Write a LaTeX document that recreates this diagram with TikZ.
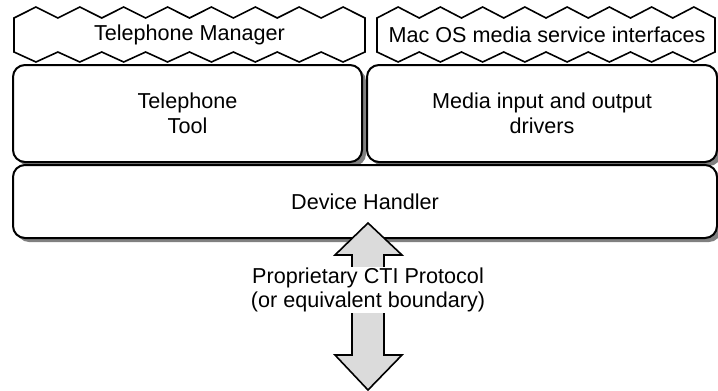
\documentclass[tikz,border=0pt]{standalone}
\usepackage{fontspec}
\setmainfont{Liberation Sans}
\usetikzlibrary{shadows}
\tikzset{
  lbl/.style={font=\fontsize{21.6}{24.5}\selectfont, align=center, inner sep=0pt},
  tabline/.style={draw=black, line width=1.6pt, fill=white, line join=miter},
  box/.style={draw=black, line width=2pt, fill=white, rounded corners=12pt,
    align=center, font=\fontsize{21.6}{24.5}\selectfont, inner sep=0pt,
    drop shadow={shadow xshift=4pt, shadow yshift=-4pt, fill=black!50, opacity=1}},
  bigarrow/.style={draw=black, line width=1.6pt, fill=black!14, line join=miter}
}
\newcommand{\zigtab}[3]{% x0, x1, n
  \pgfmathsetmacro{\pp}{(#2-#1)/#3}
  \draw[tabline] (#1,18)
    \foreach \i in {1,...,#3} { -- ({#1+(\i-0.5)*\pp},7) -- ({#1+\i*\pp},18) }
    -- (#2,52)
    \foreach \i in {#3,...,1} { -- ({#1+(\i-0.5)*\pp},62) -- ({#1+(\i-1)*\pp},52) }
    -- cycle;
}
\begin{document}
\begin{tikzpicture}[x=1pt,y=-1pt]
\useasboundingbox (0,0) rectangle (718,391);
% tabs
\zigtab{14}{365}{8}
\zigtab{377}{715}{8}
\node[lbl] (mgr) at (189.5,35) {Telephone Manager};
\node[lbl] (mac) at (547,35) {Mac OS media service interfaces};
% boxes
\node[box, minimum width=349pt, minimum height=97pt] (tool) at (187.5,113.5) {Telephone\\Tool};
\node[box, minimum width=350pt, minimum height=97pt] (media) at (542,113.5) {Media input and output\\drivers};
\node[box, minimum width=704pt, minimum height=73pt] (dev) at (365,201.5) {Device Handler};
% arrow
\draw[bigarrow] (368,223) -- (402,255) -- (384,255) -- (384,355) -- (402,355)
  -- (368,390) -- (335,355) -- (352,355) -- (352,255) -- (335,255) -- cycle;
\node[lbl, fill=white, inner sep=1pt] (proto) at (368,290) {Proprietary CTI Protocol\\(or equivalent boundary)};
\end{tikzpicture}
\end{document}
